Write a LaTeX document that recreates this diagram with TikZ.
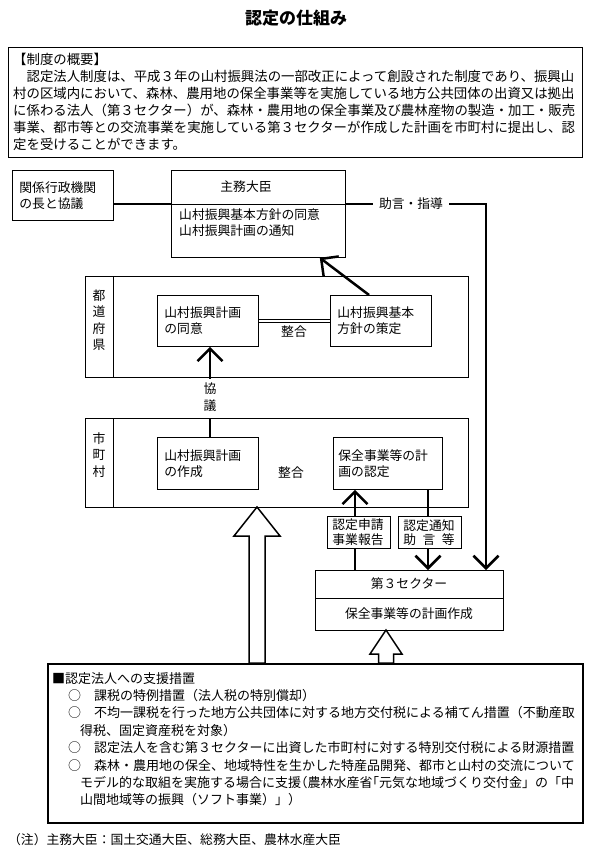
\documentclass[tikz,border=0pt]{standalone}
\usepackage{fontspec}
\setmainfont{Noto Sans CJK JP}
\usetikzlibrary{arrows.meta,calc}
\newcommand{\dfont}{\fontsize{12.8}{16}\selectfont}
\newcommand{\ofont}{\fontsize{13.4}{17}\selectfont}
\newcommand{\vfont}{\fontsize{12.8}{16.5}\selectfont}
\newcommand{\hwid}[1]{{\addfontfeature{RawFeature=+halt}#1}}
\begin{document}
\begin{tikzpicture}[x=1pt,y=-1pt,
  box/.style={draw, line width=0.8pt, inner xsep=7pt, inner ysep=0pt, align=left, font=\dfont, anchor=north west},
  frame/.style={draw, line width=0.8pt, inner sep=0pt, anchor=north west},
  plain/.style={inner sep=0pt, font=\dfont},
  thin/.style={line width=0.8pt},
  conn/.style={line width=2.5pt},
  tip/.style={-{Straight Barb[length=12.5pt,width=25pt]}},
  hollow/.style={line width=1.5pt, fill=white, line join=miter}
]
\useasboundingbox (0,0) rectangle (593,859);

% title
\node[font=\fontsize{17}{20}\selectfont\bfseries] (title) at (296,18) {認定の仕組み};

% overview
\node[frame, line width=1pt, minimum width=574pt, minimum height=110pt] (ovbox) at (8,47) {};
\node[anchor=north west, inner sep=0pt, align=left, font=\ofont] (ovtext) at (13,53) {%
【制度の概要】\\
　認定法人制度は、平成３年の山村振興法の一部改正によって創設された制度であり、振興山\\
村の区域内において、森林、農用地の保全事業等を実施している地方公共団体の出資又は拠出\\
に係わる法人（第３セクター）が、森林・農用地の保全事業及び農林産物の製造・加工・販売\\
事業、都市等との交流事業を実施している第３セクターが作成した計画を市町村に提出し、認\\
定を受けることができます。};

% minister
\node[box, minimum width=101pt, minimum height=50pt, text width=87pt] (kankei) at (12,170) {関係行政機関\\の長と協議};
\node[frame, minimum width=174pt, minimum height=87pt] (shumu) at (171,170) {};
\coordinate (div) at (171,204);
\draw[thin] (shumu.west |- div) -- (shumu.east |- div);
\node[plain] (shumut) at (246,187) {主務大臣};
\node[plain, anchor=north west, align=left] (shumub) at (179,209) {山村振興基本方針の同意\\山村振興計画の通知};
\draw[line width=1.4pt] (kankei.east |- div) -- (shumu.west |- div);
\node[plain, inner xsep=6pt] (jogen) at (411,204) {助言・指導};

% prefecture
\node[frame, minimum width=383pt, minimum height=101pt] (todo) at (85,276) {};
\draw[thin] ($(todo.north west)+(28,0)$) -- ($(todo.south west)+(28,0)$);
\node[plain, align=center, font=\vfont] (todotxt) at (99,320) {都\\道\\府\\県};
\node[box, minimum width=101pt, minimum height=51pt, text width=87pt] (doui) at (157,295) {山村振興計画\\の同意};
\node[box, minimum width=101pt, minimum height=51pt, text width=87pt] (kihon) at (330,295) {山村振興基本\\方針の策定};
\draw[line width=0.6pt, double distance=2.5pt] (doui.east) -- (kihon.west);
\node[plain] (seigou1) at (294,332) {整合};
\draw[conn, tip] ($(kihon.north west)+(39,0)$) -- ($(shumu.south east)+(-26,0)$);

% kyogi
\node[plain, align=center, font=\vfont] (kyogi) at (210,397) {協\\議};

% municipality
\node[frame, minimum width=383pt, minimum height=89pt] (shicho) at (85,418) {};
\draw[thin] ($(shicho.north west)+(28,0)$) -- ($(shicho.south west)+(28,0)$);
\node[plain, align=center, font=\vfont] (shichotxt) at (99,455) {市\\町\\村};
\node[box, minimum width=101pt, minimum height=52pt, text width=87pt] (sakusei) at (157,437) {山村振興計画\\の作成};
\node[box, minimum width=109pt, minimum height=52pt, inner xsep=5pt, text width=99pt] (nintei) at (333,437) {保全事業等の計\\画の認定};
\node[plain] (seigou2) at (291,473) {整合};

\draw[conn, tip] ($(kyogi.north)+(0,-4)$) -- (doui.south -| kyogi.north);
\draw[conn] (shicho.north -| kyogi.north) -- (sakusei.north -| kyogi.north);

% third sector
\node[frame, minimum width=188pt, minimum height=60pt] (sector) at (315,570) {};
\draw[thin] ($(sector.north west)+(0,28)$) -- ($(sector.north east)+(0,28)$);
\node[plain] (sectort) at (409,584) {第３セクター};
\node[plain] (sectorb) at (409,614) {保全事業等の計画作成};

\node[box, minimum width=63pt, minimum height=32pt, inner xsep=5pt, text width=53pt, font=\fontsize{12.8}{14.5}\selectfont, fill=white] (shinsei) at (327,516) {認定申請\\事業報告};
\node[box, minimum width=63pt, minimum height=32pt, inner xsep=5pt, text width=53pt, font=\fontsize{12.8}{14.5}\selectfont, fill=white] (tsuchi) at (398,516) {認定通知\\\makebox[51.2pt][s]{助\hfill 言\hfill 等}};

\coordinate (xa) at (355,0);
\coordinate (xb) at (428,0);
\draw[line width=2pt] (sector.north -| xa) -- (shinsei.south -| xa);
\draw[conn, tip] (shinsei.north -| xa) -- (nintei.south -| xa);
\draw[conn] (nintei.south -| xb) -- (tsuchi.north -| xb);
\draw[conn, tip] (tsuchi.south -| xb) -- (sector.north -| xb);

\draw[conn] (shumu.east |- div) -- (jogen.west);
\draw[conn, tip] (jogen.east) -| ($(sector.north west)+(171,0)$);

% support box
\node[frame, line width=2pt, minimum width=535pt, minimum height=159pt] (support) at (47,663) {};
\node[anchor=north west, inner sep=0pt, align=left, font=\fontsize{13}{17.4}\selectfont] (suptext) at (52,672) {%
■認定法人への支援措置\\
\hspace*{16pt}○　課税の特例措置（法人税の特別償却）\\
\hspace*{16pt}○　不均一課税を行った地方公共団体に対する地方交付税による補てん措置（不動産取\\
\hspace*{28pt}得税、固定資産税を対象）\\
\hspace*{16pt}○　認定法人を含む第３セクターに出資した市町村に対する特別交付税による財源措置\\
\hspace*{16pt}○　森林・農用地の保全、地域特性を生かした特産品開発、都市と山村の交流について\\
\hspace*{28pt}モデル的な取組を実施する場合に支援\hwid{（}農林水産省\hwid{「}元気な地域づくり交付金」の「中\\
\hspace*{28pt}山間地域等の振興（ソフト事業）」）};

% hollow arrows
\draw[hollow] (257,507) -- (280,536) -- (265,536) -- (265,663) -- (249,663) -- (249,536) -- (234,536) -- cycle;
\draw[hollow] (386,630) -- (402,654) -- (393.5,654) -- (393.5,663) -- (378.5,663) -- (378.5,654) -- (370,654) -- cycle;

% note
\node[plain, anchor=west] (note) at (8,840) {（注）主務大臣：国土交通大臣、総務大臣、農林水産大臣};
\end{tikzpicture}
\end{document}
